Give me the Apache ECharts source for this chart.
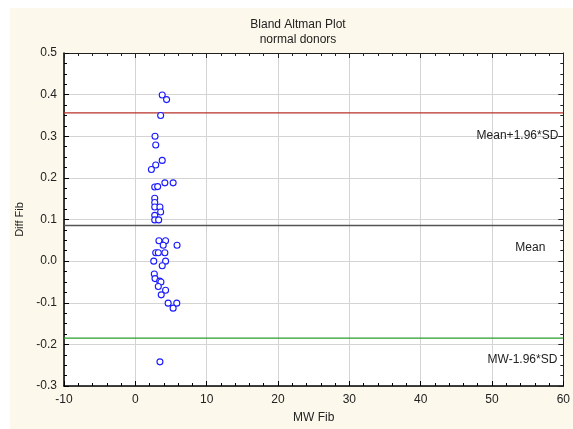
<!DOCTYPE html>
<html>
<head>
<meta charset="utf-8">
<script src="https://cdn.jsdelivr.net/npm/echarts@6/dist/echarts.min.js"></script>
<style>
  html, body { margin: 0; padding: 0; background: #ffffff; }
  #chart { width: 573px; height: 429px; }
</style>
</head>
<body>
<div id="chart"></div>
<script>
// Mean of the two methods (x) and their difference (y) per donor
const mwFib = [
  3.77, 4.38, 3.55, 2.76, 2.86, 3.77, 2.86, 2.25, 4.14, 5.30,
  2.72, 3.13, 2.72, 2.72, 2.72, 3.45, 3.55, 2.72, 2.72, 3.27,
  3.31, 4.24, 3.91, 5.85, 2.86, 3.22, 4.14, 2.58, 4.24, 3.77,
  2.66, 2.76, 3.41, 3.59, 3.22, 4.24, 3.63, 4.60, 5.81, 5.30,
  3.45
];
const diffFib = [
  0.399, 0.388, 0.350, 0.300, 0.279, 0.242, 0.231, 0.220, 0.188, 0.188,
  0.178, 0.179, 0.151, 0.141, 0.130, 0.130, 0.118, 0.110, 0.099, 0.099,
  0.049, 0.049, 0.038, 0.038, 0.020, 0.020, 0.020, 0.000, 0.000, -0.011,
  -0.031, -0.042, -0.048, -0.050, -0.061, -0.070, -0.081, -0.101, -0.101, -0.113,
  -0.242
];

// Limits of agreement and mean difference
const limitNames = ['Mean+1.96*SD', 'Mean', 'MW-1.96*SD'];
const limitValues = [0.356, 0.0857, -0.185];

// Axis ranges and tick steps
const xRange = [-10, 60];
const xStep = 10;
const yRange = [-0.3, 0.5];
const yStep = 0.1;

const FONT = '"Liberation Sans", Arial, sans-serif';
const limitColors = ['#b8302a', '#555555', '#2a9e2a'];
const limitWidths = [1.2, 1.6, 1.2];
// caption offset from the right end of each line: [left shift, drop]
const labelShift = [[-5, 23], [-18, 22], [-6, 22]];

const chart = echarts.init(document.getElementById('chart'), null, { renderer: 'canvas' });

const points = mwFib.map((x, i) => [x, diffFib[i]]);

const baseX = { type: 'value', min: xRange[0], max: xRange[1], interval: xStep };
const baseY = { type: 'value', min: yRange[0], max: yRange[1], interval: yStep };

// Each reference line is a two-point line series spanning the x range,
// with its caption attached as an end label
const limitSeries = limitValues.map((v, i) => ({
  type: 'line',
  name: limitNames[i],
  xAxisIndex: 0, yAxisIndex: 0,
  data: [[xRange[0], v], [xRange[1], v]],
  showSymbol: false,
  symbol: 'none',
  silent: true,
  z: 3,
  lineStyle: { color: limitColors[i], width: limitWidths[i], type: 'solid', opacity: 1 },
  itemStyle: { color: limitColors[i] },
  endLabel: {
    show: true,
    formatter: limitNames[i],
    distance: 0,
    align: 'right',
    verticalAlign: 'middle',
    offset: labelShift[i],
    fontFamily: FONT, fontSize: 12, color: '#222'
  }
}));

const option = {
  animation: false,
  backgroundColor: 'transparent',
  graphic: [{
    type: 'rect', z: -10, silent: true,
    shape: { x: 10, y: 8, width: 563, height: 421 },
    style: { fill: '#fcf8ec' }
  }],
  title: {
    text: 'Bland Altman Plot',
    subtext: 'normal donors',
    left: 293, textAlign: 'center', top: 14,
    itemGap: 3,
    textStyle: { fontFamily: FONT, fontSize: 12, fontWeight: 'normal', color: '#222' },
    subtextStyle: { fontFamily: FONT, fontSize: 12, color: '#222' }
  },
  grid: {
    left: 64, right: 4, top: 53, bottom: 41,
    show: true, backgroundColor: '#ffffff', borderWidth: 0
  },
  xAxis: [
    Object.assign({}, baseX, {
      position: 'bottom',
      name: 'MW Fib', nameLocation: 'middle', nameGap: 26,
      nameTextStyle: { fontFamily: FONT, fontSize: 12, color: '#222' },
      axisLine: { show: true, onZero: false, lineStyle: { color: '#000', width: 1.5 } },
      axisTick: { show: true, inside: true, length: 5, lineStyle: { color: '#000' } },
      minorTick: { show: true, splitNumber: 5, length: 3, lineStyle: { color: '#000' } },
      axisLabel: { fontFamily: FONT, fontSize: 12, color: '#222', margin: 8 },
      splitLine: { show: true, lineStyle: { color: '#d4d4d4', width: 1 } }
    }),
    Object.assign({}, baseX, {
      position: 'top',
      axisLine: { show: true, onZero: false, lineStyle: { color: '#222', width: 1 } },
      axisTick: { show: true, inside: true, length: 5, lineStyle: { color: '#222' } },
      minorTick: { show: true, splitNumber: 5, length: 3, lineStyle: { color: '#222' } },
      axisLabel: { show: false },
      splitLine: { show: false }
    })
  ],
  yAxis: [
    Object.assign({}, baseY, {
      position: 'left',
      name: 'Diff Fib', nameLocation: 'middle', nameGap: 33,
      nameTextStyle: { fontFamily: FONT, fontSize: 11, color: '#222' },
      axisLine: { show: true, onZero: false, lineStyle: { color: '#000', width: 1.5 } },
      axisTick: { show: true, inside: true, length: 5, lineStyle: { color: '#000' } },
      minorTick: { show: true, splitNumber: 4, length: 3, lineStyle: { color: '#000' } },
      axisLabel: {
        fontFamily: FONT, fontSize: 12, color: '#222', margin: 7,
        formatter: v => v.toFixed(1)
      },
      splitLine: { show: true, lineStyle: { color: '#d4d4d4', width: 1 } }
    }),
    Object.assign({}, baseY, {
      position: 'right',
      axisLine: { show: true, onZero: false, lineStyle: { color: '#222', width: 1 } },
      axisTick: { show: true, inside: true, length: 5, lineStyle: { color: '#222' } },
      minorTick: { show: true, splitNumber: 4, length: 3, lineStyle: { color: '#222' } },
      axisLabel: { show: false },
      splitLine: { show: false }
    })
  ],
  series: limitSeries.concat([{
    type: 'scatter',
    name: 'Diff Fib',
    xAxisIndex: 0, yAxisIndex: 0,
    data: points,
    symbol: 'circle',
    symbolSize: 6,
    itemStyle: { color: '#ffffff', borderColor: '#1a1aff', borderWidth: 1.1, opacity: 1 },
    z: 5
  }])
};

chart.setOption(option);
</script>
</body>
</html>
